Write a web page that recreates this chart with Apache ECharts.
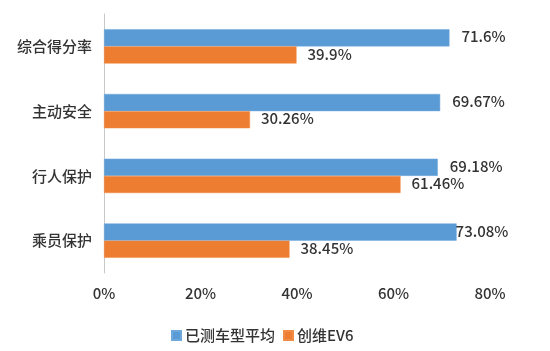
<!DOCTYPE html>
<html>
<head>
<meta charset="utf-8">
<script src="https://cdn.jsdelivr.net/npm/echarts@6/dist/echarts.min.js"></script>
<style>
  html, body { margin: 0; padding: 0; background: #fff; }
  #chart { width: 550px; height: 351px; }
</style>
</head>
<body>
<div id="chart"></div>
<script>
// 數據
const categories = ['综合得分率', '主动安全', '行人保护', '乘员保护'];
const seriesNames = ['已测车型平均', '创维EV6'];
const avgValues = [71.6, 69.67, 69.18, 73.08];
const ev6Values = [39.9, 30.26, 61.46, 38.45];
const xTicks = [0, 20, 40, 60, 80];

const textColor = '#333333';
const font = '"Noto Sans CJK SC", "Noto Sans", sans-serif';
const weight = 500;

const chart = echarts.init(document.getElementById('chart'), null, { renderer: 'canvas' });

// 最後一個標籤貼近繪圖區右側
function buildData(values, tightIndex) {
  return values.map((v, i) => {
    if (i === tightIndex) {
      return { value: v, label: { distance: -1 } };
    }
    return v;
  });
}

const option = {
  animation: false,
  textStyle: { fontFamily: font },
  grid: { left: 104, right: 60, top: 14, bottom: 78, containLabel: false },
  legend: {
    bottom: 8,
    left: 171,
    padding: 0,
    itemWidth: 9,
    itemHeight: 9,
    itemGap: 8,
    icon: 'rect',
    textStyle: { fontSize: 15, color: textColor, fontFamily: font, fontWeight: weight, padding: [0, 0, 0, -1] },
    data: seriesNames,
  },
  xAxis: {
    type: 'value',
    min: xTicks[0],
    max: xTicks[xTicks.length - 1],
    interval: 20,
    axisLine: { show: false },
    axisTick: { show: false },
    splitLine: { show: false },
    axisLabel: {
      margin: 13,
      fontSize: 15,
      color: textColor,
      fontFamily: font,
      fontWeight: weight,
      formatter: (v) => v + '%',
    },
  },
  yAxis: {
    type: 'category',
    inverse: true,
    data: categories,
    axisLine: { show: true, lineStyle: { color: '#c8c8c8', width: 1 } },
    axisTick: { show: false },
    axisLabel: { margin: 12, fontSize: 15, color: textColor, fontFamily: font, fontWeight: weight },
  },
  series: [
    {
      name: seriesNames[0],
      type: 'bar',
      barGap: '0%',
      barCategoryGap: '47%',
      itemStyle: { color: '#5B9BD5', borderColor: '#6FA8DC', borderWidth: 0.5 },
      label: {
        show: true,
        position: 'right',
        distance: 12,
        fontSize: 15,
        color: textColor,
        fontFamily: font,
        fontWeight: weight,
        offset: [0, -1],
        formatter: (p) => p.value + '%',
      },
      data: buildData(avgValues, 3),
    },
    {
      name: seriesNames[1],
      type: 'bar',
      barGap: '0%',
      barCategoryGap: '47%',
      itemStyle: { color: '#ED7D31', borderColor: '#F08C45', borderWidth: 0.5 },
      label: {
        show: true,
        position: 'right',
        distance: 11,
        fontSize: 15,
        color: textColor,
        fontFamily: font,
        fontWeight: weight,
        offset: [0, -1],
        formatter: (p) => p.value + '%',
      },
      data: buildData(ev6Values, -1),
    },
  ],
};

chart.setOption(option);
</script>
</body>
</html>
